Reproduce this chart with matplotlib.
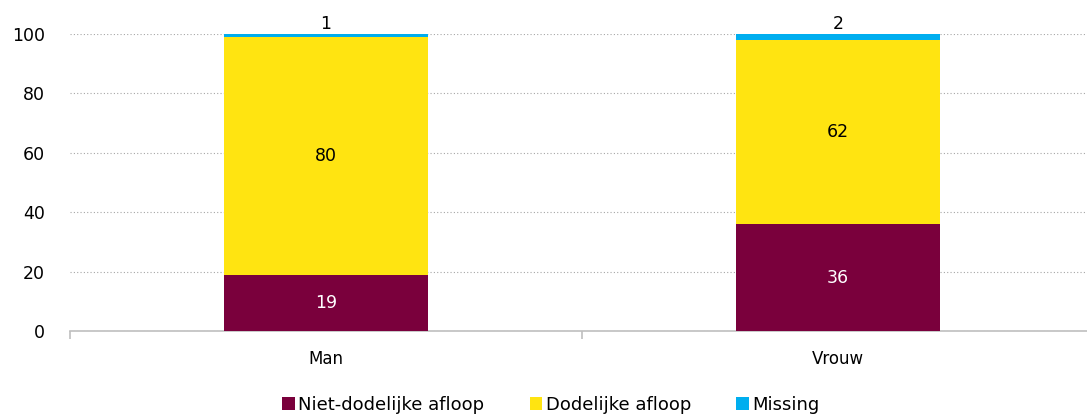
import numpy as np
import matplotlib
matplotlib.use("Agg")
from matplotlib import pyplot as plt
from matplotlib.patches import Patch

categories = ['Man', 'Vrouw']
niet_dodelijk = [19, 36]
dodelijk = [80, 62]
missing = [1, 2]
series_names = ['Niet-dodelijke afloop', 'Dodelijke afloop', 'Missing']
colors = ['#7A003C', '#FFE411', '#00AEEF']

plt.rcParams['font.family'] = ['DejaVu Sans']
plt.rcParams['font.size'] = 12

fig = plt.figure(figsize=(10.87, 4.17), dpi=100)
W, H = 1087, 417
ax = fig.add_axes([70 / W, (H - 331) / H, (1087 - 70) / W, (331 - 34) / H])

x = np.arange(len(categories))
width = 0.40
bottom = np.zeros(len(categories))
for vals, col in zip([niet_dodelijk, dodelijk, missing], colors):
    ax.bar(x, vals, width, bottom=bottom, color=col, zorder=3)
    bottom += np.array(vals)

# segment labels
for i in range(len(categories)):
    ax.text(x[i], niet_dodelijk[i] / 2, str(niet_dodelijk[i]), ha='center', va='center',
            color='white', fontsize=12.5, zorder=4)
    ax.text(x[i], niet_dodelijk[i] + dodelijk[i] / 2, str(dodelijk[i]), ha='center',
            va='center', color='black', fontsize=12.5, zorder=4)
    ax.text(x[i], niet_dodelijk[i] + dodelijk[i] + missing[i] + 0.5, str(missing[i]),
            ha='center', va='bottom', color='black', fontsize=12.5, zorder=4)

ax.set_ylim(0, 100)
ax.set_yticks([0, 20, 40, 60, 80, 100])
ax.grid(axis='y', color='#a6a6a6', linestyle=(0, (1, 2)), linewidth=0.8, zorder=0)

for s in ['top', 'right', 'left']:
    ax.spines[s].set_visible(False)
ax.spines['bottom'].set_color('#bfbfbf')
ax.spines['bottom'].set_linewidth(1.2)

ax.tick_params(axis='y', length=0, pad=18, labelsize=12.5)
ax.set_xticks(x)
ax.set_xticklabels(categories)
ax.tick_params(axis='x', length=0, pad=14, labelsize=12)
ax.set_xticks([-0.5, 0.5, 1.5], minor=True)
ax.tick_params(axis='x', which='minor', length=6, color='#bfbfbf', width=1.2)
ax.set_xlim(-0.5, -0.5 + 1017 / 512)

handles = [Patch(facecolor=c, label=n) for c, n in zip(colors, series_names)]
fig.legend(handles=handles, loc='center', bbox_to_anchor=(0.507, 1 - 405 / H), ncol=3,
           frameon=False, fontsize=13, handlelength=0.7, handleheight=0.7,
           handletextpad=0.2, columnspacing=2.5)

plt.savefig('out.png', dpi=100)
